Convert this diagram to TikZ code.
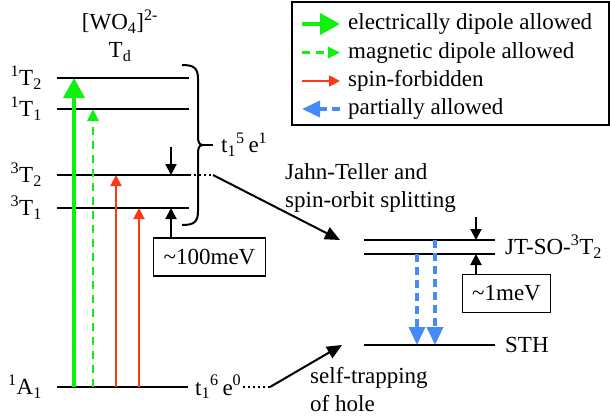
\documentclass[tikz,border=0pt]{standalone}
\usepackage{fontspec}
\setmainfont{Liberation Serif}
\usepackage{xcolor}
\usetikzlibrary{arrows.meta,positioning}

\definecolor{egreen}{RGB}{15,240,15}
\definecolor{sred}{RGB}{255,55,20}
\definecolor{pblue}{RGB}{70,138,248}

\begin{document}
\begin{tikzpicture}[
  x=1pt, y=-1pt,
  font=\fontsize{23}{28}\selectfont,
  lvl/.style={line width=2.5pt, black},
  lbl/.style={inner sep=2pt},
  lvllbl/.style={inner sep=2pt, anchor=east},
  edip/.style={-{Triangle[length=20pt, width=21pt]}, line width=4pt, egreen},
  mdip/.style={-{Triangle[length=12pt, width=11pt]}, line width=2.5pt, egreen,
    dash pattern=on 8pt off 6pt},
  sf/.style={-{Triangle[length=11pt, width=11pt]}, line width=2pt, sred},
  part/.style={-{Triangle[length=18pt, width=16pt]}, line width=3.5pt, pblue,
    dash pattern=on 8pt off 5pt},
  arr/.style={-{Triangle[length=15pt, width=13pt]}, line width=2pt},
  gap/.style={-{Triangle[length=11pt, width=11pt]}, line width=2pt},
  dots/.style={line width=2pt, dash pattern=on 2pt off 3pt},
  valbox/.style={draw, line width=1.2pt, inner xsep=10pt, minimum height=38},
]
\useasboundingbox (0,0) rectangle (610,416);

% Legend
\node[draw, line width=1.5pt, minimum width=317, minimum height=123,
  inner sep=0pt] (legend) at (450.5,63.5) {};
\node[lbl, anchor=west] (leg1) at (346,24) {electrically dipole allowed};
\node[lbl, anchor=west] (leg2) at (346,52.5) {magnetic dipole allowed};
\node[lbl, anchor=west] (leg3) at (346,81) {spin-forbidden};
\node[lbl, anchor=west] (leg4) at (346,109) {partially allowed};
\draw[edip] ([xshift=-44pt]leg1.west) -- ([xshift=-6pt]leg1.west);
\draw[mdip] ([xshift=-44pt]leg2.west) -- ([xshift=-6pt]leg2.west);
\draw[sf] ([xshift=-44pt]leg3.west) -- ([xshift=-6pt]leg3.west);
\draw[part] ([xshift=-6pt]leg4.west) -- ([xshift=-44pt]leg4.west);

% Td levels
\node[lbl, align=center] (ion) at (120,36)
  {[WO\textsubscript{4}]\textsuperscript{2-}\\T\textsubscript{d}};
\draw[lvl] (57,78) coordinate (sT2) -- (189,78);
\draw[lvl] (57,109) coordinate (sT1) -- (189,109);
\draw[lvl] (57,175) coordinate (tT2) -- (189,175) coordinate (tT2r);
\draw[lvl] (57,208) coordinate (tT1) -- (189,208);
\draw[lvl] (57,387) coordinate (gA1) -- (188,387);
\node[lvllbl] (lsT2) at (44,78) {\textsuperscript{1}T\textsubscript{2}};
\node[lvllbl] (lsT1) at (44,109) {\textsuperscript{1}T\textsubscript{1}};
\node[lvllbl] (ltT2) at (44,175) {\textsuperscript{3}T\textsubscript{2}};
\node[lvllbl] (ltT1) at (44,208) {\textsuperscript{3}T\textsubscript{1}};
\node[lvllbl] (lgA1) at (44,387) {\textsuperscript{1}A\textsubscript{1}};

% Excited configuration
\draw[line width=2pt] (182,65) .. controls (194,65) and (198,68) .. (198,79)
  -- (198,136) .. controls (198,142) and (199,145) .. (203,145) coordinate (brtip)
  .. controls (199,145) and (198,148) .. (198,154)
  -- (198,211) .. controls (198,222) and (194,225) .. (182,225);
\node[lbl, inner xsep=8pt, anchor=west] (conf1) at (213,145)
  {t\textsubscript{1}\textsuperscript{5}\,e\textsuperscript{1}};
\draw[line width=2pt] (brtip) -- (conf1.west);
\node[lbl, anchor=west] (conf0) at (193,387)
  {t\textsubscript{1}\textsuperscript{6}\,e\textsuperscript{0}};

% Transitions
\draw[edip] ([xshift=17pt]gA1) -- ([xshift=17pt]sT2);
\draw[mdip] ([xshift=36pt]gA1) -- ([xshift=36pt]sT1);
\draw[sf] ([xshift=59pt]gA1) -- ([xshift=59pt]tT2);
\draw[sf] ([xshift=82pt]gA1) -- ([xshift=82pt]tT1);

% Triplet splitting
\node[valbox] (mev100) at (209.5,257) {\textasciitilde100meV};
\draw[gap] ([xshift=114pt, yshift=28pt]tT2) -- ([xshift=114pt]tT2);
\draw[gap] ([xshift=114pt]tT1 |- mev100.north) -- ([xshift=114pt]tT1);

% Relaxed levels
\draw[lvl] (364,240) coordinate (jtU) -- (495,240);
\draw[lvl] (364,254) coordinate (jtL) -- (495,254);
\draw[lvl] (364,345) coordinate (sth) -- (495,345);
\node[lbl, anchor=west] (ljt) at (503,247)
  {JT-SO-\textsuperscript{3}T\textsubscript{2}};
\node[lbl, anchor=west] (lsth) at (503,345) {STH};
\draw[part] ([xshift=53pt]jtL) -- ([xshift=53pt]sth);
\draw[part] ([xshift=71pt]jtU) -- ([xshift=71pt]sth);

\node[valbox] (mev1) at (506.5,293.5) {\textasciitilde1meV};
\draw[gap] ([xshift=112pt, yshift=23pt]jtU) -- ([xshift=112pt]jtU);
\draw[gap] ([xshift=112pt]jtL |- mev1.north) -- ([xshift=112pt]jtL);

% Relaxation paths
\coordinate (jtbend) at (213,175);
\coordinate (jtend) at ([xshift=-24pt]jtU);
\draw[dots] (tT2r) -- (jtbend);
\draw[arr] (jtbend) -- (jtend);
\node[lbl, anchor=north west, align=left] (ljahn) at (283,161)
  {Jahn-Teller and\\spin-orbit splitting};

\coordinate (sthbend) at (270,387);
\coordinate (sthend) at ([xshift=-22pt]sth);
\draw[dots] (conf0.east) -- (sthbend);
\draw[arr] (sthbend) -- (sthend);
\node[lbl, anchor=north west, align=left] (lhole) at (308,365)
  {self-trapping\\of hole};
\end{tikzpicture}
\end{document}
